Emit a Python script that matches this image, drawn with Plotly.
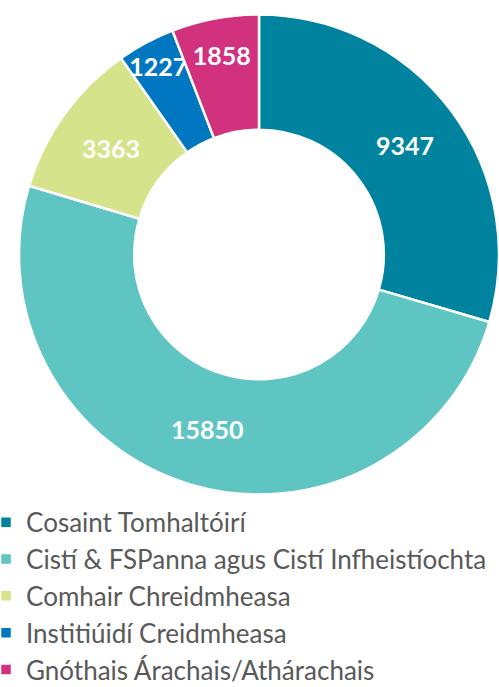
import plotly.graph_objects as go

labels = ["Cosaint Tomhaltóirí", "Cistí & FSPanna agus Cistí Infheistíochta",
          "Comhair Chreidmheasa", "Institiúidí Creidmheasa",
          "Gnóthais Árachais/Athárachais"]
values = [9347, 15850, 3363, 1227, 1858]
colors = ["#00839F", "#5EC5C2", "#D5E38A", "#0077C0", "#D1317D"]

W, H = 499, 687

fig = go.Figure(go.Pie(
    labels=labels, values=values, sort=False, direction="clockwise", rotation=0,
    hole=0.52,
    marker=dict(colors=colors, line=dict(color="white", width=2.5)),
    texttemplate="%{value:d}", textposition="inside", insidetextorientation="horizontal",
    textfont=dict(family="Lato", size=25, color="white", weight="bold"),
    domain=dict(x=[19 / W, 1], y=[1 - 498 / H, 1 - 11 / H]),
    hoverinfo="label+value+percent",
))

fig.update_layout(
    width=W, height=H, paper_bgcolor="white", plot_bgcolor="white",
    margin=dict(l=0, r=0, t=0, b=0, autoexpand=False),
    font=dict(family="Lato", color="#595959"),
    uniformtext=dict(minsize=25, mode="show"),
    legend=dict(x=-0.028, y=-0.01, xanchor="left", yanchor="bottom",
                font=dict(size=26, color="#595959"), itemwidth=30,
                tracegroupgap=0, bgcolor="rgba(0,0,0,0)"),
)

fig.write_html("out.html", config={"displayModeBar": False},
               post_script="document.body.style.margin='0';document.body.style.overflow='hidden';")
